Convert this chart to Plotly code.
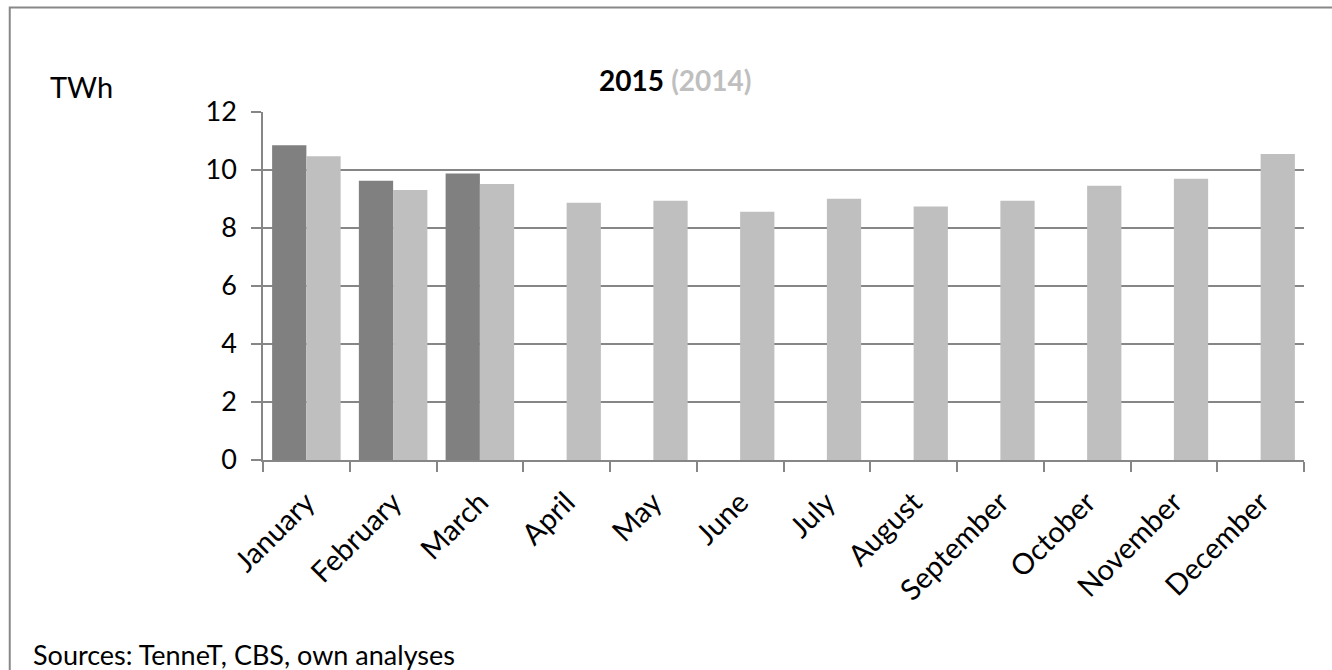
import plotly.graph_objects as go

months = ["January", "February", "March", "April", "May", "June", "July",
          "August", "September", "October", "November", "December"]
values_2015 = [10.85, 9.63, 9.88, None, None, None, None, None, None, None, None, None]
values_2014 = [10.47, 9.31, 9.52, 8.87, 8.94, 8.56, 9.01, 8.74, 8.94, 9.46, 9.70, 10.55]
y_ticks = [0, 2, 4, 6, 8, 10, 12]

W, H = 1332, 670
L, R, T, B = 262.5, 1304.5, 112, 460

FONT = "Lato"

fig = go.Figure()
fig.add_trace(go.Bar(x=months, y=values_2015, name="2015", marker_color="#808080",
                     marker_line_width=0))
fig.add_trace(go.Bar(x=months, y=values_2014, name="2014", marker_color="#BFBFBF",
                     marker_line_width=0))

def px_x(p):
    return (p - L) / (R - L)

def px_y(p):
    return (B - p) / (B - T)

fig.update_layout(
    width=W, height=H,
    margin=dict(l=L, r=W - R, t=T, b=H - B, pad=0),
    paper_bgcolor="white", plot_bgcolor="white",
    barmode="group", bargap=0.21, bargroupgap=0,
    showlegend=False,
    font=dict(family=FONT, color="black"),
    xaxis=dict(
        type="category", tickson="boundaries", ticks="outside", ticklen=10,
        tickcolor="#868686", tickwidth=1.5, showline=True, linecolor="#868686",
        linewidth=1.5, tickangle=-45, tickfont=dict(size=29, family=FONT),
        showgrid=False, fixedrange=True, ticklabelstandoff=12,
    ),
    yaxis=dict(
        range=[0, 12], tickvals=y_ticks, ticks="outside", ticklen=10,
        tickcolor="#868686", tickwidth=1.5, showline=True, linecolor="#868686",
        linewidth=1.5, showgrid=True, gridcolor="#868686", gridwidth=1.5,
        zeroline=False, tickfont=dict(size=27, family=FONT),
        ticklabelstandoff=9,
    ),
    shapes=[dict(type="rect", xref="paper", yref="paper",
                 x0=px_x(9), x1=px_x(1345), y0=px_y(690), y1=px_y(7.5),
                 line=dict(color="#888888", width=2), fillcolor="rgba(0,0,0,0)",
                 layer="below")],
    annotations=[
        dict(text="TWh", xref="paper", yref="paper", x=px_x(47), y=px_y(87),
             xanchor="left", yanchor="middle", showarrow=False,
             font=dict(size=29, family=FONT, color="black")),
        dict(text="<b>2015</b> <b><span style='color:#BFBFBF'>(2014)</span></b>",
             xref="paper", yref="paper", x=px_x(675), y=px_y(80),
             xanchor="center", yanchor="middle", showarrow=False,
             font=dict(size=28, family=FONT, color="black")),
        dict(text="Sources: TenneT, CBS, own analyses", xref="paper", yref="paper",
             x=px_x(30), y=px_y(654), xanchor="left", yanchor="middle",
             showarrow=False, font=dict(size=27, family=FONT, color="black")),
    ],
)

fig.write_html("out.html")
